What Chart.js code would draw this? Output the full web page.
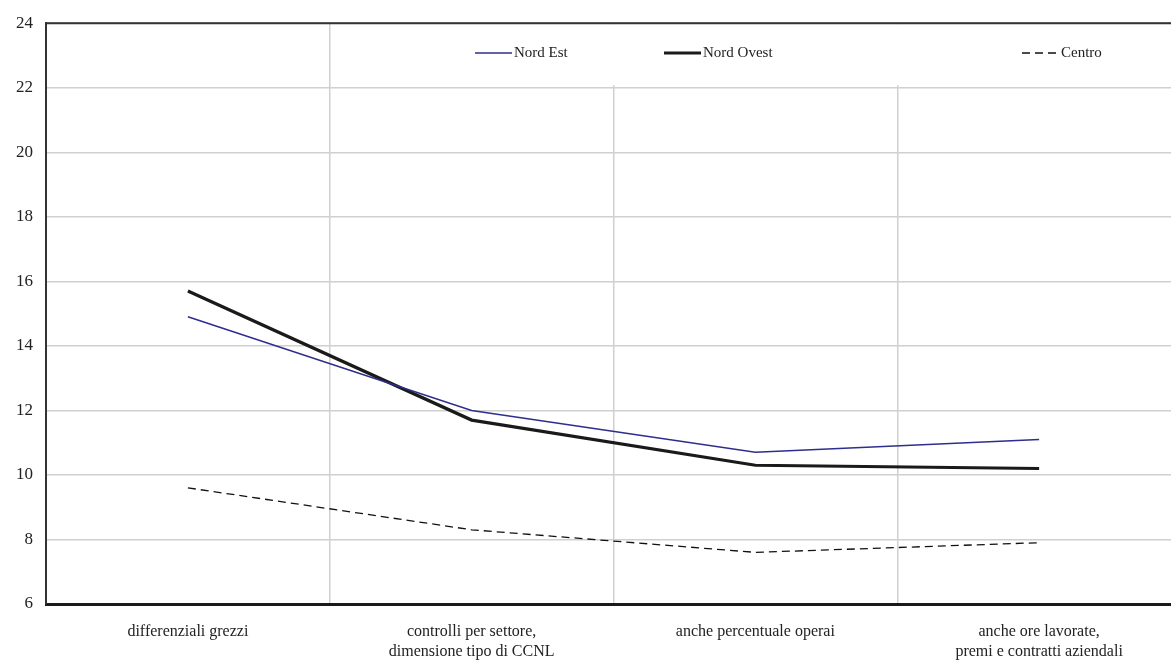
<!DOCTYPE html>
<html>
<head>
<meta charset="utf-8">
<script src="https://cdn.jsdelivr.net/npm/chart.js@4"></script>
<style>
  html, body { margin: 0; padding: 0; background: #fff; overflow: hidden; }
  #wrap { width: 1190px; height: 684px; }
</style>
</head>
<body>
<div id="wrap"><canvas id="grafico"></canvas></div>
<script>
// Categorie (asse x) e serie
const categorie = [
    'differenziali grezzi',
    ['controlli per settore,', 'dimensione tipo di CCNL'],
    'anche percentuale operai',
    ['anche ore lavorate,', 'premi e contratti aziendali']
];
const nordEst = [14.9, 12.0, 10.7, 11.1];
const nordOvest = [15.7, 11.7, 10.3, 10.2];
const centro = [9.6, 8.3, 7.6, 7.9];
const tickY = [6, 8, 10, 12, 14, 16, 18, 20, 22, 24];

const FONT = '"Liberation Serif", "DejaVu Serif", serif';

// Legenda dentro l'area del grafico, con sfondo bianco
const legendaInterna = {
    id: 'legendaInterna',
    beforeDatasetsDraw(chart) {
        const ctx = chart.ctx;
        const area = chart.chartArea;
        ctx.save();
        ctx.fillStyle = '#fff';
        ctx.fillRect(460, area.top + 1, area.right - 460, 61);
        const posizioni = [475, 664, 1022];
        ctx.font = '15px ' + FONT;
        ctx.textBaseline = 'middle';
        chart.data.datasets.forEach((ds, i) => {
            const x = posizioni[i];
            const y = 53;
            ctx.beginPath();
            ctx.strokeStyle = ds.borderColor;
            ctx.lineWidth = ds.borderWidth;
            ctx.setLineDash(ds.borderDash || []);
            ctx.moveTo(x, y);
            ctx.lineTo(x + 37, y);
            ctx.stroke();
            ctx.setLineDash([]);
            ctx.fillStyle = '#222';
            ctx.fillText(ds.label, x + 39, y);
        });
        // bordo superiore
        ctx.beginPath();
        ctx.strokeStyle = '#333';
        ctx.lineWidth = 2;
        ctx.moveTo(area.left, area.top);
        ctx.lineTo(area.right, area.top);
        ctx.stroke();
        ctx.restore();
    }
};

const config = {
    type: 'line',
    data: {
        labels: categorie,
        datasets: [{
            label: 'Nord Est',
            data: nordEst,
            borderColor: '#2e2e8c',
            borderWidth: 1.5,
            pointRadius: 0,
            tension: 0
        }, {
            label: 'Nord Ovest',
            data: nordOvest,
            borderColor: '#1a1a1a',
            borderWidth: 3.2,
            pointRadius: 0,
            tension: 0
        }, {
            label: 'Centro',
            data: centro,
            borderColor: '#111',
            borderWidth: 1.3,
            borderDash: [8, 5],
            pointRadius: 0,
            tension: 0
        }]
    },
    options: {
        responsive: true,
        maintainAspectRatio: false,
        animation: false,
        layout: { padding: { left: 3, right: 9, top: 8, bottom: 4 } },
        plugins: {
            legend: { display: false },
            tooltip: { enabled: false }
        },
        scales: {
            x: {
                offset: true,
                grid: { offset: true, color: '#d0d0d0', lineWidth: 1.5, drawTicks: false },
                border: { display: true, color: '#1a1a1a', width: 3 },
                ticks: {
                    color: '#222',
                    font: { family: FONT, size: 16, lineHeight: 1.25 },
                    padding: 18,
                    maxRotation: 0,
                    autoSkip: false
                }
            },
            y: {
                min: 6,
                max: 24,
                afterBuildTicks: (axis) => { axis.ticks = tickY.map(v => ({ value: v })); },
                grid: { color: '#d0d0d0', lineWidth: 1.5, drawTicks: false },
                border: { display: true, color: '#333', width: 2 },
                ticks: {
                    color: '#222',
                    font: { family: FONT, size: 17 },
                    padding: 13
                }
            }
        }
    },
    plugins: [legendaInterna]
};

const ctx = document.getElementById('grafico').getContext('2d');
const grafico = new Chart(ctx, config);
</script>
</body>
</html>
